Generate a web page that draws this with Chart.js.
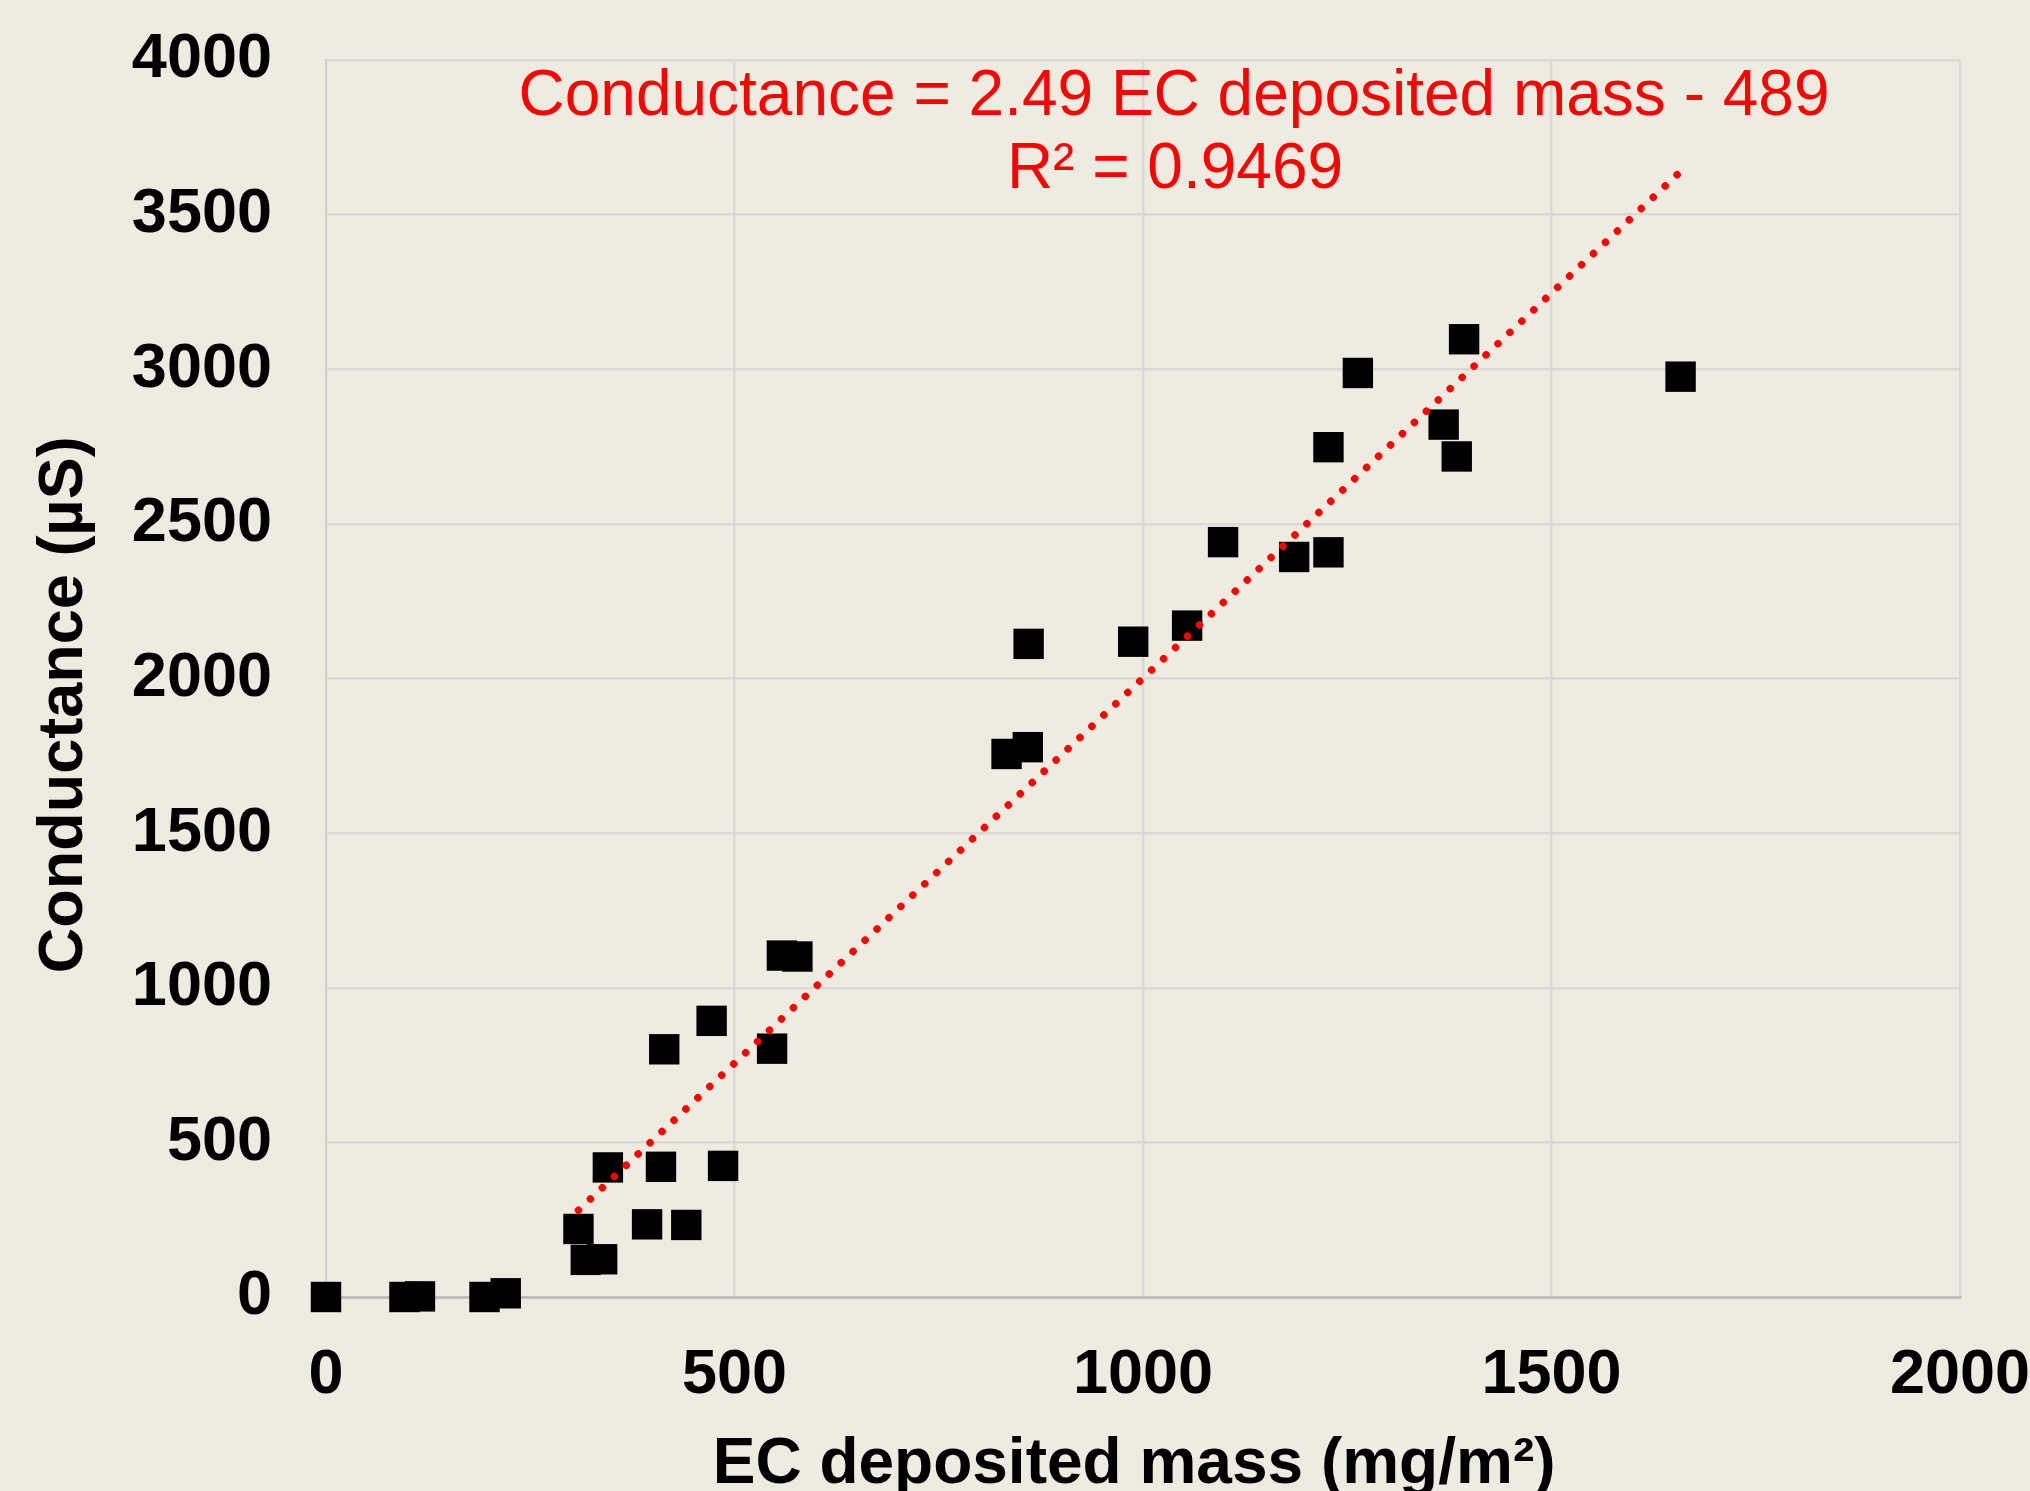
<!DOCTYPE html>
<html>
<head>
<meta charset="utf-8">
<script src="https://cdn.jsdelivr.net/npm/chart.js@4.4.1/dist/chart.umd.min.js"></script>
<style>
  html, body { margin: 0; padding: 0; background: #EEECE1; overflow: hidden; }
  canvas { display: block; }
</style>
</head>
<body>
<canvas id="chart" width="2030" height="1491"></canvas>
<script>
// Datos
const lowMass = [0, 96, 115, 194, 220];
const lowCond = [0, 0, 2, 0, 12];

const mass = [309, 318, 338, 345, 393, 410, 414, 441, 472, 486, 546, 558, 577,
  833, 859, 860, 988, 1054, 1098, 1185, 1227, 1227, 1263, 1368, 1384, 1393, 1658];
const conductance = [220, 120, 122, 419, 235, 421, 801, 233, 893, 424, 803, 1104, 1101,
  1756, 1778, 2112, 2119, 2171, 2441, 2393, 2408, 2748, 2988, 2821, 2718, 3097, 2976];

// Línea de tendencia (ecuación mostrada)
const slope = 2.49;
const intercept = -489;
const trendLabel = ["Conductance = 2.49 EC deposited mass - 489", "R² = 0.9469"];

const xTicks = [0, 500, 1000, 1500, 2000];
const yTicks = [0, 500, 1000, 1500, 2000, 2500, 3000, 3500, 4000];

const FONT = "'Liberation Sans', Arial, sans-serif";

const toPoints = (xs, ys) => xs.map((x, i) => ({ x, y: ys[i] }));
const trendX = [Math.min(...mass), Math.max(...mass)];
const trendPoints = trendX.map(x => ({ x, y: slope * x + intercept }));

const bgPlugin = {
  id: "bg",
  beforeDraw(chart) {
    const { ctx, width, height } = chart;
    ctx.save();
    ctx.fillStyle = "#EEECE1";
    ctx.fillRect(0, 0, width, height);
    ctx.restore();
  }
};

const labelPlugin = {
  id: "trendLabel",
  afterDatasetsDraw(chart) {
    const { ctx } = chart;
    ctx.save();
    ctx.fillStyle = "#FF0000";
    ctx.font = "64px " + FONT;
    ctx.textAlign = "center";
    ctx.textBaseline = "alphabetic";
    ctx.fillText(trendLabel[0], 1174, 115);
    ctx.fillText(trendLabel[1], 1175, 188);
    ctx.restore();
  }
};

const squareStyle = {
  pointStyle: "rect",
  pointRadius: 21.5,
  pointHoverRadius: 21.5,
  pointBackgroundColor: "#000",
  pointBorderWidth: 0,
  showLine: false,
  clip: false,
  order: 1
};

new Chart(document.getElementById("chart"), {
  type: "scatter",
  data: {
    datasets: [
      {
        type: "line",
        label: "Trend",
        data: trendPoints,
        borderColor: "#FF0000",
        borderWidth: 7.5,
        borderDash: [0.01, 16.4],
        borderCapStyle: "round",
        pointRadius: 0,
        fill: false,
        order: 0
      },
      { label: "Low", data: toPoints(lowMass, lowCond), ...squareStyle },
      { label: "Conductance", data: toPoints(mass, conductance), ...squareStyle }
    ]
  },
  options: {
    responsive: false,
    animation: false,
    devicePixelRatio: 1,
    layout: { padding: { top: 60, right: 0, bottom: 0, left: 0 } },
    plugins: { legend: { display: false }, tooltip: { enabled: false } },
    scales: {
      x: {
        type: "linear",
        min: 0, max: 2000,
        afterBuildTicks: (s) => { s.ticks = xTicks.map(v => ({ value: v })); },
        afterFit: (s) => {
          s.height = 194;
          s.paddingLeft = 0;
          s.paddingRight = 70;
        },
        grid: { color: "#D9D9D9", lineWidth: 2.5, drawTicks: false },
        border: { color: "#BFBFBF", width: 3 },
        ticks: {
          padding: 41,
          color: "#000",
          maxRotation: 0,
          callback: (v) => String(v),
          font: { family: FONT, size: 63, weight: "bold" }
        },
        title: {
          display: true,
          text: "EC deposited mass (mg/m²) ",
          color: "#000",
          padding: { top: 0, bottom: -6 },
          font: { family: FONT, size: 64, weight: "bold", lineHeight: 1 }
        }
      },
      y: {
        type: "linear",
        min: 0, max: 4000,
        afterBuildTicks: (s) => { s.ticks = yTicks.map(v => ({ value: v })); },
        afterFit: (s) => {
          s.width = 326;
          s.paddingTop = 0;
          s.paddingBottom = 0;
        },
        grid: { color: "#D9D9D9", lineWidth: 2.5, drawTicks: false },
        border: { color: "#D0D0D0", width: 2 },
        ticks: {
          padding: 54,
          color: "#000",
          callback: (v) => String(v),
          font: { family: FONT, size: 63, weight: "bold" }
        },
        title: {
          display: true,
          text: "Conductance (µS)   ",
          color: "#000",
          padding: { top: 33, bottom: 0 },
          font: { family: FONT, size: 63, weight: "bold", lineHeight: 1 }
        }
      }
    }
  },
  plugins: [bgPlugin, labelPlugin]
});
</script>
</body>
</html>
